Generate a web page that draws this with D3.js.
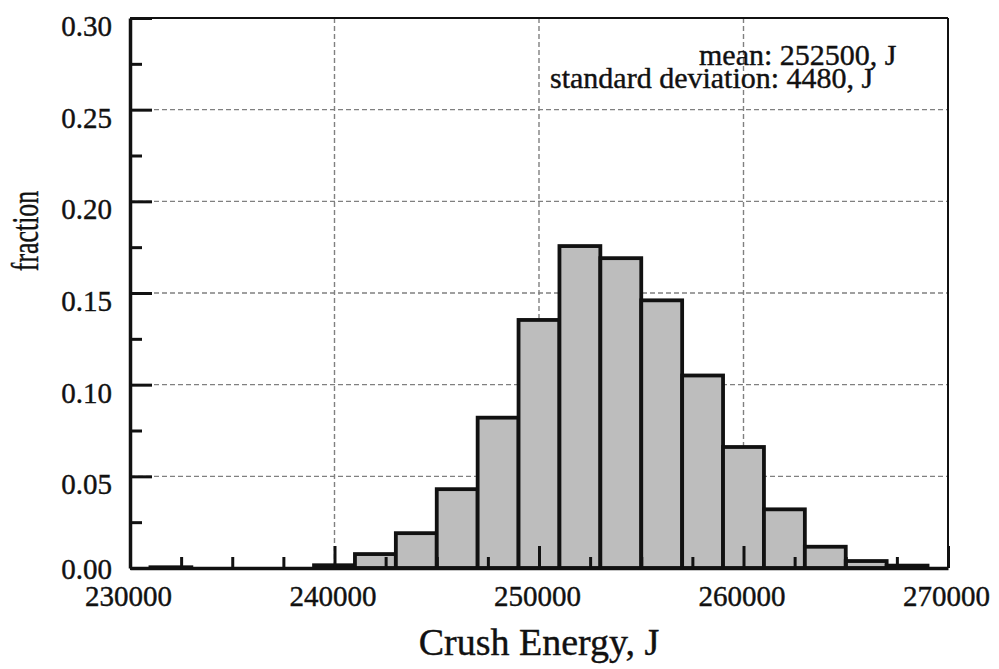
<!DOCTYPE html>
<html>
<head>
<meta charset="utf-8">
<script src="https://cdn.jsdelivr.net/npm/d3@7"></script>
<style>
  html, body { margin: 0; padding: 0; background: #fff; }
  svg text { font-family: "Liberation Serif", "Times New Roman", serif; fill: #111; stroke: #111; stroke-width: 0.4px; }
</style>
</head>
<body>
<svg id="chart" width="999" height="669"></svg>
<script>
// Histogram of crush energy: bin start (J), bin width 2000 J, fraction per bin
const binStarts = [231000, 233000, 235000, 237000, 239000, 241000, 243000, 245000, 247000,
                   249000, 251000, 253000, 255000, 257000, 259000, 261000, 263000, 265000, 267000];
const fractions = [0.0004, 0, 0, 0, 0.0015, 0.0076, 0.019, 0.043, 0.082,
                   0.1353, 0.1756, 0.169, 0.146, 0.105, 0.066, 0.032, 0.0116, 0.0038, 0.0013];
const binWidth = 2000;

const xTicks = [230000, 240000, 250000, 260000, 270000];
const xMinorTicks = [232500, 235000, 237500, 242500, 245000, 247500, 252500, 255000, 257500,
                     262500, 265000, 267500];
const yTicks = [0.00, 0.05, 0.10, 0.15, 0.20, 0.25, 0.30];
const yMinorTicks = [0.025, 0.075, 0.125, 0.175, 0.225, 0.275];

const statsLines = ["mean: 252500, J", "standard deviation: 4480, J"];
const xTitle = "Crush Energy, J";
const yTitle = "fraction";

const W = 999, H = 669;
const margin = { left: 130, top: 18, right: 51, bottom: 101 };
const innerW = W - margin.left - margin.right;
const innerH = H - margin.top - margin.bottom;

const svg = d3.select("#chart");
const g = svg.append("g").attr("transform", `translate(${margin.left},${margin.top})`);

const x = d3.scaleLinear().domain([230000, 270000]).range([0, innerW]);
const y = d3.scaleLinear().domain([0, 0.30]).range([innerH, 0]);

// dashed grid
const grid = g.append("g").attr("stroke", "#808080").attr("stroke-width", 1.4)
  .attr("stroke-dasharray", "5,3");
grid.selectAll("line.v").data(xTicks.slice(1, -1)).join("line")
  .attr("x1", d => x(d)).attr("x2", d => x(d)).attr("y1", 0).attr("y2", innerH);
grid.selectAll("line.h").data(yTicks.slice(1, -1)).join("line")
  .attr("x1", 0).attr("x2", innerW).attr("y1", d => y(d)).attr("y2", d => y(d));

// bars
const bins = binStarts.map((s, i) => ({ x0: s, x1: s + binWidth, v: fractions[i] }))
  .filter(d => d.v > 0);
g.append("g").selectAll("rect").data(bins).join("rect")
  .attr("x", d => x(d.x0))
  .attr("y", d => y(d.v))
  .attr("width", d => x(d.x1) - x(d.x0))
  .attr("height", d => y(0) - y(d.v))
  .attr("fill", "#bdbdbd")
  .attr("stroke", "#111")
  .attr("stroke-width", 3.8);

// frame
g.append("line").attr("x1", 0).attr("x2", innerW).attr("y1", 0).attr("y2", 0)
  .attr("stroke", "#111").attr("stroke-width", 2);
g.append("line").attr("x1", innerW).attr("x2", innerW).attr("y1", 0).attr("y2", innerH)
  .attr("stroke", "#111").attr("stroke-width", 2);

// axes with inward ticks
const xAxis = d3.axisBottom(x).tickValues(xTicks).tickSizeInner(-22).tickSizeOuter(0)
  .tickFormat(d3.format("d"));
const xAxisG = g.append("g").attr("transform", `translate(0,${innerH})`).call(xAxis);
xAxisG.select(".domain").attr("stroke", "#111").attr("stroke-width", 3.5);
xAxisG.selectAll(".tick line").attr("stroke", "#111").attr("stroke-width", 3);
xAxisG.selectAll(".tick text").attr("font-size", 29).attr("fill", "#111")
  .attr("font-family", "Liberation Serif").attr("dy", "0").attr("y", 38).attr("dx", -2);

const xMinor = d3.axisBottom(x).tickValues(xMinorTicks).tickSizeInner(-11).tickSizeOuter(0).tickFormat("");
const xMinorG = g.append("g").attr("transform", `translate(0,${innerH})`).call(xMinor);
xMinorG.select(".domain").remove();
xMinorG.selectAll(".tick line").attr("stroke", "#111").attr("stroke-width", 3);

const yAxis = d3.axisLeft(y).tickValues(yTicks).tickSizeInner(-22).tickSizeOuter(0)
  .tickFormat(d3.format(".2f"));
const yAxisG = g.append("g").call(yAxis);
yAxisG.select(".domain").attr("stroke", "#111").attr("stroke-width", 3.5);
yAxisG.selectAll(".tick line").attr("stroke", "#111").attr("stroke-width", 3);
yAxisG.selectAll(".tick text").attr("font-size", 29).attr("fill", "#111")
  .attr("font-family", "Liberation Serif").attr("x", -18)
  .attr("dy", d => d === 0 ? "0.35em" : "0.6em");

const yMinor = d3.axisLeft(y).tickValues(yMinorTicks).tickSizeInner(-12).tickSizeOuter(0).tickFormat("");
const yMinorG = g.append("g").call(yMinor);
yMinorG.select(".domain").remove();
yMinorG.selectAll(".tick line").attr("stroke", "#111").attr("stroke-width", 3);

// statistics annotation
const statX = [699, 550], statY = [65, 88];
svg.append("g").selectAll("text").data(statsLines).join("text")
  .attr("x", (d, i) => statX[i]).attr("y", (d, i) => statY[i])
  .attr("font-size", 30)
  .text(d => d);

// axis titles
svg.append("text")
  .attr("x", margin.left + innerW / 2).attr("y", 655)
  .attr("text-anchor", "middle").attr("font-size", 38)
  .text(xTitle);

svg.append("text")
  .attr("transform", "translate(38,231) rotate(-90) scale(0.7,1)")
  .attr("text-anchor", "middle").attr("font-size", 37)
  .text(yTitle);
</script>
</body>
</html>
